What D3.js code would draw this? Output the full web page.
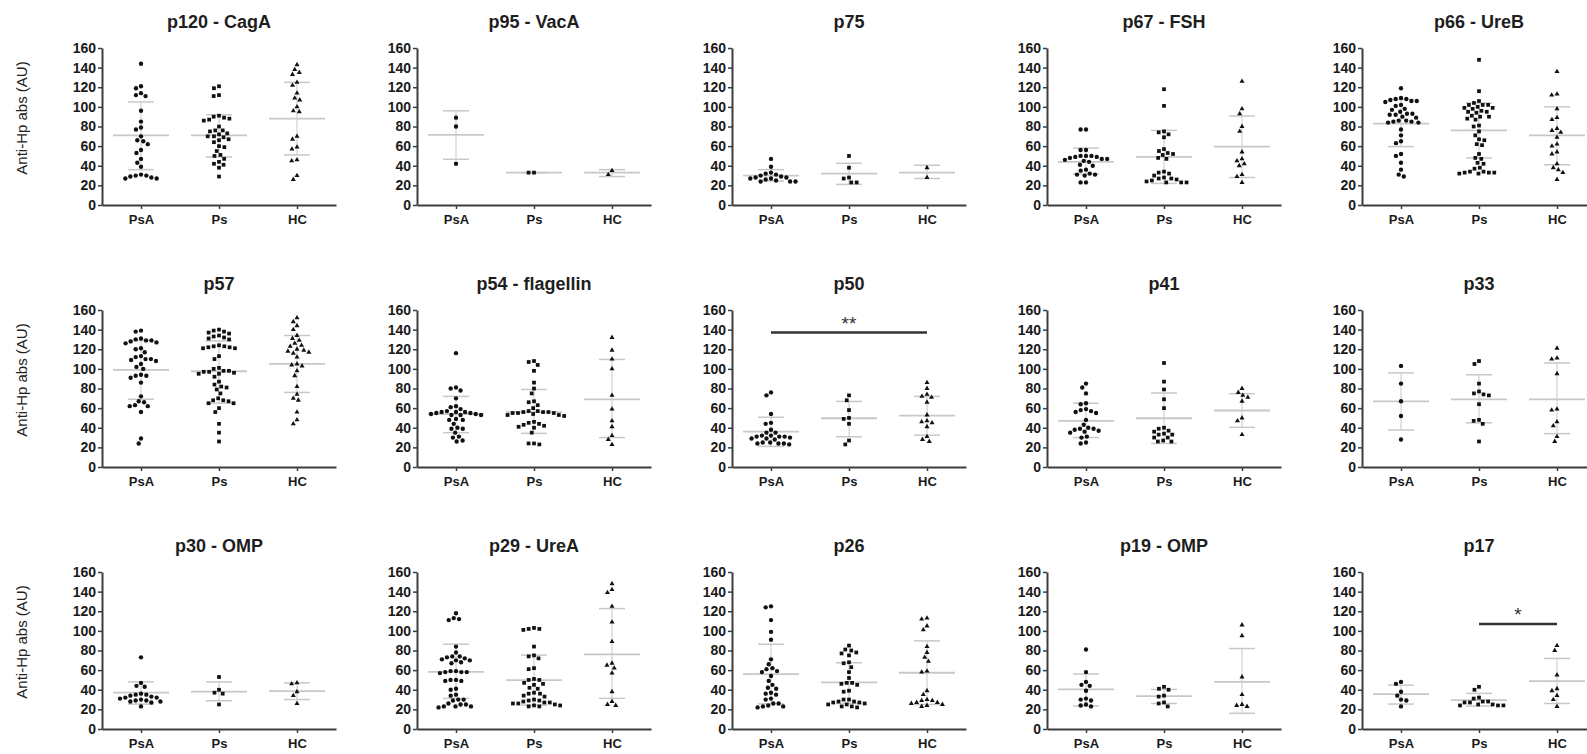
<!DOCTYPE html>
<html><head><meta charset="utf-8">
<script src="https://cdn.jsdelivr.net/npm/d3@7"></script>
<style>body{margin:0;background:#fff}svg{display:block}text{font-family:"Liberation Sans",Arial,sans-serif}</style>
</head><body><svg id="c" width="1587" height="754"></svg>
<script>
const titles = ["p120 - CagA","p95 - VacA","p75","p67 - FSH","p66 - UreB",
  "p57","p54 - flagellin","p50","p41","p33",
  "p30 - OMP","p29 - UreA","p26","p19 - OMP","p17"];
const categories = ["PsA","Ps","HC"];
const yTicks = [0,20,40,60,80,100,120,140,160];
const yLabel = "Anti-Hp abs (AU)";

const psaValues = [
  [144,121,119,114,112,111,96,85,79,77,70,66,65,62,56,53,47,43,39,31,30,30,29,28,27,27],
  [89,80,42],
  [47,39,33,32,31,30,29,28,28,27,27,26,25,24,24,24],
  [77,77,56,56,50,50,49,49,50,48,47,46,45,47,44,41,40,36,35,32,31,31,30,23,23],
  [119,109,108,108,107,106,106,105,102,101,98,97,95,93,93,92,92,90,89,86,86,85,85,84,84,77,71,65,63,52,50,43,36,31,29],
  [139,138,131,130,129,129,128,127,126,121,120,117,113,112,110,110,109,108,105,102,100,94,93,93,91,86,72,67,66,63,62,62,56,29,24],
  [116,81,80,78,70,62,61,59,57,56,56,56,55,55,54,54,53,53,53,49,48,48,44,40,39,39,35,31,30,27,26],
  [76,73,54,45,44,38,35,35,32,32,31,31,31,30,29,29,28,25,25,24,24,24,23],
  [85,81,75,65,64,59,58,57,56,55,48,43,40,39,39,38,37,36,35,31,30,25,24],
  [103,85,67,52,28],
  [73,47,44,43,36,35,35,34,33,32,32,31,30,29,29,28,28,27,23],
  [118,113,112,111,84,78,74,74,73,72,71,70,70,68,67,59,59,58,58,58,57,50,50,49,49,41,40,35,34,30,30,29,26,25,25,23,23,23,22],
  [125,124,111,99,91,71,66,62,61,59,58,54,49,45,42,41,37,36,35,31,30,26,26,24,23,23,22],
  [81,58,48,45,44,39,31,30,29,25,24,23],
  [48,46,38,34,30,29,23]
];
const psValues = [
  [121,119,112,111,90,91,89,88,87,86,80,76,76,75,73,72,70,70,69,67,66,64,60,59,55,51,50,47,44,42,41,38,29],
  [33,33],
  [50,38,28,27,23,23],
  [118,101,75,74,72,69,57,55,53,52,51,48,47,34,33,32,30,28,27,27,26,25,24,23,23,23],
  [148,116,106,104,102,102,102,100,99,99,98,96,95,95,94,91,90,90,88,87,81,80,75,71,67,66,62,61,52,48,47,43,42,38,37,34,34,33,33,33,32,32],
  [140,139,138,137,136,134,133,132,131,130,124,123,123,122,122,121,121,113,110,101,100,98,98,97,97,96,95,95,92,87,84,82,81,79,75,70,68,68,67,65,65,60,56,44,35,26],
  [108,107,104,98,86,80,75,67,66,63,60,57,57,56,56,56,55,55,55,54,53,53,52,46,45,44,43,42,41,40,35,24,24,23],
  [73,68,58,50,49,44,27,23],
  [106,87,79,69,60,40,39,37,36,34,33,33,30,30,27,26,26],
  [108,105,85,77,75,74,73,64,48,47,44,26],
  [53,40,37,36,25],
  [103,102,102,101,84,75,74,72,62,61,51,50,50,47,46,45,42,41,37,36,36,34,33,30,29,29,28,27,27,26,26,25,24,24,23,23],
  [85,81,80,78,77,75,68,67,63,58,52,47,47,46,45,39,38,30,30,28,28,27,27,26,25,25,23,23,22],
  [43,41,40,34,33,27,26,23],
  [43,40,32,31,28,28,27,27,25,25,24,24,24]
];
const hcValues = [
  [143,138,135,133,125,122,114,109,107,100,96,95,70,67,59,57,46,45,30,26],
  [35,31],
  [38,28],
  [126,98,93,80,75,54,47,45,42,40,31,29,23],
  [136,113,112,98,89,87,78,76,74,69,62,60,54,52,42,38,36,33,26],
  [152,148,144,140,134,131,129,126,124,123,120,119,118,117,116,112,105,104,103,98,93,82,74,70,68,56,48,44],
  [132,119,110,100,73,59,47,41,32,28,23],
  [86,80,74,72,71,66,53,47,46,45,41,31,28,26],
  [80,76,73,71,67,50,47,33],
  [121,111,110,95,59,58,46,42,31,26],
  [47,46,38,34,26],
  [148,142,139,125,109,89,67,65,62,57,38,28,25,24],
  [113,112,105,101,84,78,73,69,59,58,39,35,30,29,29,27,27,26,25,24,23],
  [106,95,53,35,25,24,23],
  [85,80,55,41,39,34,30,23]
];
// mean and SD bounds: [PsA, Ps, HC]
const meanValues = [
  [71,71,88],[71.5,33,33],[30,32,33],[44,49,59.5],[83,76,71],
  [99,97.6,105],[54,56,69],[36,49.7,52.4],[47,49.7,57.6],[66.8,69,69],
  [37,38,38.6],[58.3,49.8,76],[56,47.5,57.3],[40.3,33.6,48],[35.6,29.5,48.8]
];
const sdLowValues = [
  [36,49,51],[46.6,33,29],[24.5,21,27],[31.5,22,28],[59.5,48,41],
  [69,65,76],[35,34.3,30],[21,30.8,32.5],[30,24,40.4],[37.7,45,34],
  [25.4,28.8,30],[31.2,24.3,31.2],[25.6,26,25],[23.4,26,16],[25.4,23.4,26]
];
const sdHighValues = [
  [105,92,125],[96,33,36],[36,42.5,40.5],[58,76,90.7],[107.6,104,100],
  [129,128.5,134],[72,79,109.6],[50.7,66.8,72],[65,75.4,74.7],[95.9,94,106],
  [48,48,47],[86.4,75.3,122.7],[86.4,67.5,89.8],[56,40.3,82],[44.7,36.3,71.9]
];
// significance annotations
const sigPanel = ["p50","p17"];
const sigFrom = ["PsA","Ps"];
const sigTo = ["HC","HC"];
const sigLevel = [137,107];
const sigLabel = ["**","*"];

const svg = d3.select("#c");
const AXIS = "#3c3c3c", GRAY = "#c8c8c8";
const symbolTypes = [d3.symbolCircle, d3.symbolSquare, d3.symbolTriangle];
const symbolSizes = [15, 14, 11];

function swarm(vals, cx, y, d) {
  const placed = [];
  const items = vals.map(v => ({v, py: y(v)})).sort((a,b) => a.py - b.py);
  for (const p of items) {
    const cands = [0];
    for (const q of placed) {
      const dy = Math.abs(q.py - p.py);
      if (dy < d) {
        const dx = Math.sqrt(d*d - dy*dy);
        cands.push(q.off + dx + 0.01, q.off - dx - 0.01);
      }
    }
    cands.sort((a,b) => Math.abs(a) - Math.abs(b) || a - b);
    let off = 0;
    for (const c of cands) {
      let ok = true;
      for (const q of placed) {
        const dx = q.off - c, dy = q.py - p.py;
        if (dx*dx + dy*dy < d*d - 0.001) { ok = false; break; }
      }
      if (ok) { off = c; break; }
    }
    placed.push({v: p.v, py: p.py, off});
  }
  return placed.map(p => ({v: p.v, x: cx + p.off, y: p.py}));
}

titles.forEach((title, i) => {
  const col = i % 5, row = Math.floor(i / 5);
  const left = 102 + 315 * col;
  const top = 48 + 262 * row;
  const h = 157, w = 234;
  const y = d3.scaleLinear().domain([0,160]).range([top + h, top]);
  const x = d3.scalePoint().domain(categories).range([left, left + w]).padding(0.5);
  const g = svg.append("g");

  g.append("text").attr("x", x("Ps")).attr("y", top - 20)
    .attr("text-anchor","middle").attr("font-size", 18).attr("font-weight","bold")
    .attr("fill","#1e1e1e").text(title);

  if (col === 0) {
    g.append("text").attr("transform", `translate(27,${top + 70}) rotate(-90)`)
      .attr("text-anchor","middle").attr("font-size", 15).attr("fill","#222").text(yLabel);
  }

  const ya = g.append("g").attr("transform", `translate(${left},0)`)
    .call(d3.axisLeft(y).tickValues(yTicks).tickSizeInner(4).tickSizeOuter(0).tickPadding(2));
  ya.select(".domain").attr("stroke", AXIS).attr("stroke-width", 2);
  ya.selectAll(".tick line").attr("stroke", AXIS).attr("stroke-width", 1.5);
  ya.selectAll(".tick text").attr("font-size", 14).attr("font-weight","bold").attr("fill","#1a1a1a")
    .attr("font-family",'"Liberation Sans",Arial,sans-serif');

  const xa = g.append("g").attr("transform", `translate(0,${top + h})`)
    .call(d3.axisBottom(x).tickSizeInner(4).tickSizeOuter(0).tickPadding(6));
  xa.select(".domain").attr("stroke", AXIS).attr("stroke-width", 2);
  xa.selectAll(".tick line").attr("stroke", AXIS).attr("stroke-width", 1.5);
  xa.selectAll(".tick text").attr("font-size", 13).attr("font-weight","bold").attr("fill","#1a1a1a")
    .attr("font-family",'"Liberation Sans",Arial,sans-serif');

  const groups = [psaValues[i], psValues[i], hcValues[i]];
  categories.forEach((cat, j) => {
    const cx = x(cat);
    const m = meanValues[i][j], lo = sdLowValues[i][j], hi = sdHighValues[i][j];
    const eg = g.append("g").attr("stroke", GRAY).attr("stroke-width", 1.5);
    eg.append("line").attr("x1", cx).attr("x2", cx).attr("y1", y(lo)).attr("y2", y(hi)).attr("stroke-width", 1);
    eg.append("line").attr("x1", cx - 13).attr("x2", cx + 13).attr("y1", y(lo)).attr("y2", y(lo));
    eg.append("line").attr("x1", cx - 13).attr("x2", cx + 13).attr("y1", y(hi)).attr("y2", y(hi));
    eg.append("line").attr("x1", cx - 28).attr("x2", cx + 28).attr("y1", y(m)).attr("y2", y(m)).attr("stroke-width", 1.8);

    const pts = swarm(groups[j], cx, y, 5.4);
    g.append("g").selectAll("path").data(pts).join("path")
      .attr("transform", d => `translate(${d.x},${d.y})`)
      .attr("d", d3.symbol().type(symbolTypes[j]).size(symbolSizes[j]))
      .attr("fill", "#111");
  });

  sigPanel.forEach((p, k) => {
    if (p !== title) return;
    const x1 = x(sigFrom[k]), x2 = x(sigTo[k]);
    g.append("line").attr("x1", x1).attr("x2", x2).attr("y1", y(sigLevel[k])).attr("y2", y(sigLevel[k]))
      .attr("stroke", "#333").attr("stroke-width", 2.5);
    g.append("text").attr("x", (x1 + x2) / 2).attr("y", y(sigLevel[k]) - 3)
      .attr("text-anchor","middle").attr("font-size", 19).attr("fill","#333").text(sigLabel[k]);
  });
});
</script></body></html>
